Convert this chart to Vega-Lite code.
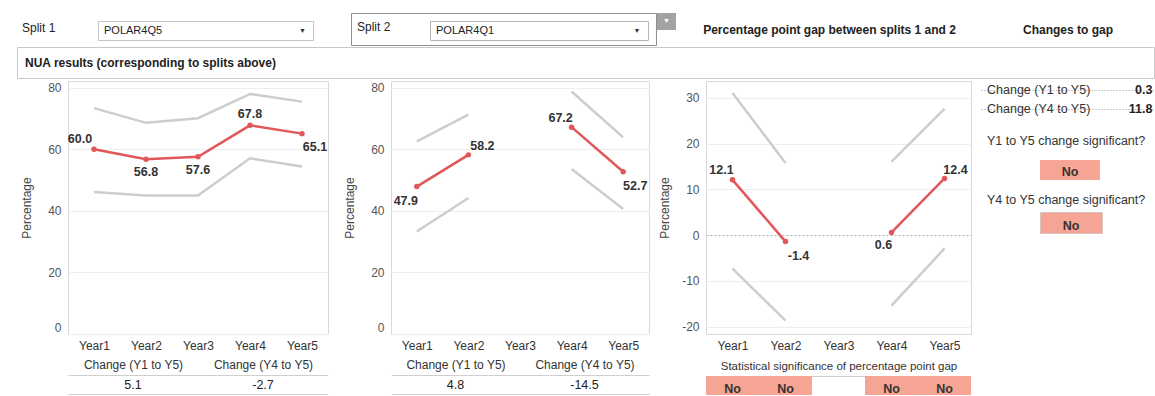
{
  "$schema": "https://vega.github.io/schema/vega-lite/v6.json",
  "padding": 0,
  "background": "white",
  "spacing": 0,
  "datasets": {
    "split1": [
      {"year": "Year1", "segment": "Y1-Y5", "estimate": 60.0, "lower": 46.1, "upper": 73.4},
      {"year": "Year2", "segment": "Y1-Y5", "estimate": 56.8, "lower": 45.0, "upper": 68.6},
      {"year": "Year3", "segment": "Y1-Y5", "estimate": 57.6, "lower": 45.0, "upper": 70.1},
      {"year": "Year4", "segment": "Y1-Y5", "estimate": 67.8, "lower": 57.1, "upper": 78.0},
      {"year": "Year5", "segment": "Y1-Y5", "estimate": 65.1, "lower": 54.4, "upper": 75.5}
    ],
    "split2": [
      {"year": "Year1", "segment": "Y1-Y2", "estimate": 47.9, "lower": 33.3, "upper": 62.6},
      {"year": "Year2", "segment": "Y1-Y2", "estimate": 58.2, "lower": 44.2, "upper": 71.3},
      {"year": "Year4", "segment": "Y4-Y5", "estimate": 67.2, "lower": 53.6, "upper": 78.8},
      {"year": "Year5", "segment": "Y4-Y5", "estimate": 52.7, "lower": 40.6, "upper": 63.9}
    ],
    "gap": [
      {"year": "Year1", "segment": "Y1-Y2", "estimate": 12.1, "lower": -7.3, "upper": 31.1},
      {"year": "Year2", "segment": "Y1-Y2", "estimate": -1.4, "lower": -18.7, "upper": 15.8},
      {"year": "Year4", "segment": "Y4-Y5", "estimate": 0.6, "lower": -15.4, "upper": 16.1},
      {"year": "Year5", "segment": "Y4-Y5", "estimate": 12.4, "lower": -2.9, "upper": 27.6}
    ],
    "split1Change": [
      {"change": "Change (Y1 to Y5)", "value": 5.1},
      {"change": "Change (Y4 to Y5)", "value": -2.7}
    ],
    "split2Change": [
      {"change": "Change (Y1 to Y5)", "value": 4.8},
      {"change": "Change (Y4 to Y5)", "value": -14.5}
    ],
    "gapSignificance": [
      {"year": "Year1", "significant": "No"},
      {"year": "Year2", "significant": "No"},
      {"year": "Year4", "significant": "No"},
      {"year": "Year5", "significant": "No"}
    ],
    "gapChange": [
      {"change": "Change (Y1 to Y5)", "question": "Y1 to Y5 change significant?", "gap": 0.3, "significant": "No"},
      {"change": "Change (Y4 to Y5)", "question": "Y4 to Y5 change significant?", "gap": 11.8, "significant": "No"}
    ]
  },
  "vconcat": [
    {
      "hconcat": [
        {"width": 97, "height": 44, "data": {"values": [{"label": "Split 1"}]},
         "mark": {"type": "text", "align": "left", "dx": -26.5, "dy": 6, "fontSize": 12, "color": "#222"},
         "encoding": {"text": {"field": "label"}}},
        {"vconcat": [
          {"width": 215, "height": 21, "data": {"values": []}, "mark": "text"},
          {"width": 215, "height": 19, "view": {"fill": "white", "stroke": "#c4c4c4"},
           "data": {"values": [{"label": "POLAR4Q5"}]},
           "layer": [
             {"mark": {"type": "text", "align": "left", "dx": -101.5, "fontSize": 11, "color": "#222"}, "encoding": {"text": {"field": "label"}}},
             {"mark": {"type": "text", "text": "▼", "dx": 97, "fontSize": 7, "color": "#333"}}
           ]}
        ], "spacing": 0, "bounds": "flush"},
        {"width": 36, "height": 44, "data": {"values": []}, "mark": "text"},
        {"hconcat": [
          {"vconcat": [
            {"width": 305, "height": 13, "data": {"values": []}, "mark": "text"},
            {"width": 305, "height": 32, "view": {"stroke": "#8f8f8f"},
             "data": {"values": [{"label": "Split 2"}]},
             "mark": {"type": "text", "align": "left", "dx": -146.5, "dy": -2, "fontSize": 12, "color": "#222"},
             "encoding": {"text": {"field": "label"}}}
          ], "spacing": 0, "bounds": "flush"},
          {"vconcat": [
            {"width": 298, "height": 20, "data": {"values": []}, "mark": "text"},
            {"hconcat": [
              {"width": 79, "height": 19, "data": {"values": []}, "mark": "text"},
              {"width": 218, "height": 19, "view": {"fill": "white", "stroke": "#b5b5b5"},
               "data": {"values": [{"label": "POLAR4Q1"}]},
               "layer": [
                 {"mark": {"type": "text", "align": "left", "dx": -103, "fontSize": 11, "color": "#222"}, "encoding": {"text": {"field": "label"}}},
                 {"mark": {"type": "text", "text": "▼", "dx": 98, "fontSize": 7, "color": "#333"}}
               ]}
            ], "spacing": 0, "bounds": "flush"}
          ], "spacing": 0}
        ], "spacing": 0, "bounds": "flush"},
        {"vconcat": [
          {"width": 19, "height": 13, "data": {"values": []}, "mark": "text"},
          {"width": 19, "height": 17, "view": {"fill": "#a3a3a3", "stroke": null},
           "data": {"values": [{}]},
           "mark": {"type": "text", "text": "▼", "dy": -1, "fontSize": 7, "color": "white"}}
        ], "spacing": 0, "bounds": "flush"},
        {"width": 307, "height": 44, "data": {"values": [{"label": "Percentage point gap between splits 1 and 2"}]},
         "mark": {"type": "text", "dy": 8, "fontSize": 12, "fontWeight": "bold", "color": "#222"},
         "encoding": {"text": {"field": "label"}}},
        {"width": 172, "height": 44, "data": {"values": [{"label": "Changes to gap"}]},
         "mark": {"type": "text", "dx": -1, "dy": 8, "fontSize": 12, "fontWeight": "bold", "color": "#222"},
         "encoding": {"text": {"field": "label"}}}
      ],
      "spacing": 0
    },
    {
      "hconcat": [
        {"width": 17, "height": 31, "data": {"values": []}, "mark": "text"},
        {"width": 1137, "height": 31, "view": {"fill": "white", "stroke": "#c8c8c8"},
         "data": {"values": [{"label": "NUA results (corresponding to splits above)"}]},
         "mark": {"type": "text", "align": "left", "dx": -560.5, "fontSize": 12, "fontWeight": "bold", "color": "#222"},
         "encoding": {"text": {"field": "label"}}}
      ],
      "spacing": 0, "bounds": "flush"
    },
    {
      "hconcat": [
        {"width": 19, "height": 316, "data": {"values": []}, "mark": "text"},
        {"vconcat": [
          {"width": 260, "height": 2, "data": {"values": []}, "mark": "text"},
          {"width": 260, "height": 253, "view": {"stroke": "#d9d9d9"},
           "data": {"name": "split1"},
           "encoding": {"x": {"field": "year", "type": "ordinal",
             "scale": {"type": "point", "padding": 0.5, "domain": ["Year1", "Year2", "Year3", "Year4", "Year5"]},
             "axis": {"title": null, "labelAngle": 0, "ticks": false, "domain": false, "grid": false, "labelPadding": 6, "labelFontSize": 12, "labelColor": "#333"}}},
           "layer": [
             {"mark": {"type": "line", "color": "#cdcdcd", "strokeWidth": 2.5},
              "encoding": {"y": {"field": "upper", "type": "quantitative", "title": "Percentage",
                "scale": {"domain": [0, 82.2], "nice": false, "zero": false},
                "axis": {"title": "Percentage", "values": [0, 20, 40, 60, 80], "grid": true, "gridColor": "#eeeeee", "domain": false, "ticks": false, "labelPadding": 7, "labelFontSize": 12, "labelColor": "#555", "labelFlush": true, "titleFontSize": 12, "titleFontWeight": "normal", "titleColor": "#444", "minExtent": 29, "maxExtent": 29, "titlePadding": 6}},
                "detail": {"field": "segment"}}},
             {"mark": {"type": "line", "color": "#cdcdcd", "strokeWidth": 2.5},
              "encoding": {"y": {"field": "lower", "type": "quantitative", "title": "Percentage"}, "detail": {"field": "segment"}}},
             {"mark": {"type": "line", "color": "#e15759", "strokeWidth": 2.5},
              "encoding": {"y": {"field": "estimate", "type": "quantitative", "title": "Percentage"}, "detail": {"field": "segment"}}},
             {"mark": {"type": "circle", "color": "#e15759", "size": 30, "opacity": 1},
              "encoding": {"y": {"field": "estimate", "type": "quantitative", "title": "Percentage"}}},
             {"transform": [{"filter": {"field": "year", "oneOf": ["Year1"]}}],
              "mark": {"type": "text", "dx": -14, "dy": -10, "fontSize": 12.5, "fontWeight": "bold", "color": "#333"},
              "encoding": {"y": {"field": "estimate", "type": "quantitative", "title": "Percentage"}, "text": {"field": "estimate", "type": "quantitative", "format": ".1f"}}},
             {"transform": [{"filter": {"field": "year", "oneOf": ["Year4"]}}],
              "mark": {"type": "text", "dy": -11, "fontSize": 12.5, "fontWeight": "bold", "color": "#333"},
              "encoding": {"y": {"field": "estimate", "type": "quantitative", "title": "Percentage"}, "text": {"field": "estimate", "type": "quantitative", "format": ".1f"}}},
             {"transform": [{"filter": {"field": "year", "oneOf": ["Year2", "Year3"]}}],
              "mark": {"type": "text", "dy": 13, "fontSize": 12.5, "fontWeight": "bold", "color": "#333"},
              "encoding": {"y": {"field": "estimate", "type": "quantitative", "title": "Percentage"}, "text": {"field": "estimate", "type": "quantitative", "format": ".1f"}}},
             {"transform": [{"filter": {"field": "year", "oneOf": ["Year5"]}}],
              "mark": {"type": "text", "dx": 13, "dy": 13, "fontSize": 12.5, "fontWeight": "bold", "color": "#333"},
              "encoding": {"y": {"field": "estimate", "type": "quantitative", "title": "Percentage"}, "text": {"field": "estimate", "type": "quantitative", "format": ".1f"}}}
           ]},
          {"width": 260, "height": 41, "data": {"values": []}, "mark": "text"},
          {"width": 260, "height": 19, "data": {"name": "split1Change"},
           "encoding": {"y": {"datum": "value", "type": "nominal", "axis": null}},
           "layer": [
             {"mark": {"type": "text", "fontSize": 12.5, "color": "#222"},
              "encoding": {"x": {"field": "change", "type": "nominal", "scale": {"paddingInner": 0, "paddingOuter": 0},
                "axis": {"orient": "top", "title": null, "ticks": false, "domain": true, "domainColor": "#cfcfcf", "labelPadding": 4, "labelFontSize": 12, "labelColor": "#333", "labelAngle": 0, "grid": false}},
                "text": {"field": "value", "type": "quantitative", "format": ".1f"}}},
             {"mark": {"type": "text", "opacity": 0},
              "encoding": {"x": {"field": "change", "type": "nominal",
                "axis": {"orient": "bottom", "title": null, "labels": false, "ticks": false, "domain": true, "domainColor": "#cfcfcf", "grid": false}}}}
           ],
           "resolve": {"axis": {"x": "independent"}}}
        ], "spacing": 0, "bounds": "flush"},
        {"width": 13, "height": 316, "data": {"values": []}, "mark": "text"},
        {"vconcat": [
          {"width": 258, "height": 2, "data": {"values": []}, "mark": "text"},
          {"width": 258, "height": 253, "view": {"stroke": "#d9d9d9"},
           "data": {"name": "split2"},
           "encoding": {"x": {"field": "year", "type": "ordinal",
             "scale": {"type": "point", "padding": 0.5, "domain": ["Year1", "Year2", "Year3", "Year4", "Year5"]},
             "axis": {"title": null, "labelAngle": 0, "ticks": false, "domain": false, "grid": false, "labelPadding": 6, "labelFontSize": 12, "labelColor": "#333"}}},
           "layer": [
             {"mark": {"type": "line", "color": "#cdcdcd", "strokeWidth": 2.5},
              "encoding": {"y": {"field": "upper", "type": "quantitative", "title": "Percentage",
                "scale": {"domain": [0, 82.2], "nice": false, "zero": false},
                "axis": {"title": "Percentage", "values": [0, 20, 40, 60, 80], "grid": true, "gridColor": "#eeeeee", "domain": false, "ticks": false, "labelPadding": 7, "labelFontSize": 12, "labelColor": "#555", "labelFlush": true, "titleFontSize": 12, "titleFontWeight": "normal", "titleColor": "#444", "minExtent": 29, "maxExtent": 29, "titlePadding": 6}},
                "detail": {"field": "segment"}}},
             {"mark": {"type": "line", "color": "#cdcdcd", "strokeWidth": 2.5},
              "encoding": {"y": {"field": "lower", "type": "quantitative", "title": "Percentage"}, "detail": {"field": "segment"}}},
             {"mark": {"type": "line", "color": "#e15759", "strokeWidth": 2.5},
              "encoding": {"y": {"field": "estimate", "type": "quantitative", "title": "Percentage"}, "detail": {"field": "segment"}}},
             {"mark": {"type": "circle", "color": "#e15759", "size": 30, "opacity": 1},
              "encoding": {"y": {"field": "estimate", "type": "quantitative", "title": "Percentage"}}},
             {"transform": [{"filter": {"field": "year", "oneOf": ["Year4"]}}],
              "mark": {"type": "text", "dx": -11, "dy": -9, "fontSize": 12.5, "fontWeight": "bold", "color": "#333"},
              "encoding": {"y": {"field": "estimate", "type": "quantitative", "title": "Percentage"}, "text": {"field": "estimate", "type": "quantitative", "format": ".1f"}}},
             {"transform": [{"filter": {"field": "year", "oneOf": ["Year1"]}}],
              "mark": {"type": "text", "dx": -11, "dy": 14, "fontSize": 12.5, "fontWeight": "bold", "color": "#333"},
              "encoding": {"y": {"field": "estimate", "type": "quantitative", "title": "Percentage"}, "text": {"field": "estimate", "type": "quantitative", "format": ".1f"}}},
             {"transform": [{"filter": {"field": "year", "oneOf": ["Year2"]}}],
              "mark": {"type": "text", "dx": 14, "dy": -9, "fontSize": 12.5, "fontWeight": "bold", "color": "#333"},
              "encoding": {"y": {"field": "estimate", "type": "quantitative", "title": "Percentage"}, "text": {"field": "estimate", "type": "quantitative", "format": ".1f"}}},
             {"transform": [{"filter": {"field": "year", "oneOf": ["Year5"]}}],
              "mark": {"type": "text", "dx": 12, "dy": 14, "fontSize": 12.5, "fontWeight": "bold", "color": "#333"},
              "encoding": {"y": {"field": "estimate", "type": "quantitative", "title": "Percentage"}, "text": {"field": "estimate", "type": "quantitative", "format": ".1f"}}}
           ]},
          {"width": 258, "height": 41, "data": {"values": []}, "mark": "text"},
          {"width": 258, "height": 19, "data": {"name": "split2Change"},
           "encoding": {"y": {"datum": "value", "type": "nominal", "axis": null}},
           "layer": [
             {"mark": {"type": "text", "fontSize": 12.5, "color": "#222"},
              "encoding": {"x": {"field": "change", "type": "nominal", "scale": {"paddingInner": 0, "paddingOuter": 0},
                "axis": {"orient": "top", "title": null, "ticks": false, "domain": true, "domainColor": "#cfcfcf", "labelPadding": 4, "labelFontSize": 12, "labelColor": "#333", "labelAngle": 0, "grid": false}},
                "text": {"field": "value", "type": "quantitative", "format": ".1f"}}},
             {"mark": {"type": "text", "opacity": 0},
              "encoding": {"x": {"field": "change", "type": "nominal",
                "axis": {"orient": "bottom", "title": null, "labels": false, "ticks": false, "domain": true, "domainColor": "#cfcfcf", "grid": false}}}}
           ],
           "resolve": {"axis": {"x": "independent"}}}
        ], "spacing": 0, "bounds": "flush"},
        {"width": 7, "height": 316, "data": {"values": []}, "mark": "text"},
        {"vconcat": [
          {"width": 265, "height": 2, "data": {"values": []}, "mark": "text"},
          {"width": 265, "height": 253, "view": {"stroke": "#d9d9d9"},
           "data": {"name": "gap"},
           "encoding": {"x": {"field": "year", "type": "ordinal",
             "scale": {"type": "point", "padding": 0.5, "domain": ["Year1", "Year2", "Year3", "Year4", "Year5"]},
             "axis": {"title": null, "labelAngle": 0, "ticks": false, "domain": false, "grid": false, "labelPadding": 6, "labelFontSize": 12, "labelColor": "#333"}}},
           "layer": [
             {"mark": {"type": "line", "color": "#cdcdcd", "strokeWidth": 2.5},
              "encoding": {"y": {"field": "upper", "type": "quantitative", "title": "Percentage",
                "scale": {"domain": [-21.6, 33.7], "nice": false, "zero": false},
                "axis": {"title": "Percentage", "values": [-20, -10, 0, 10, 20, 30], "grid": true,
                  "gridColor": {"condition": {"test": "datum.value === 0", "value": "#b0b0b0"}, "value": "#eeeeee"},
                  "gridDash": {"condition": {"test": "datum.value === 0", "value": [2, 2]}, "value": []},
                  "domain": false, "ticks": false, "labelPadding": 7, "labelFontSize": 12, "labelColor": "#555", "titleFontSize": 12, "titleFontWeight": "normal", "titleColor": "#444", "minExtent": 29, "maxExtent": 29, "titlePadding": 6}},
                "detail": {"field": "segment"}}},
             {"mark": {"type": "line", "color": "#cdcdcd", "strokeWidth": 2.5},
              "encoding": {"y": {"field": "lower", "type": "quantitative", "title": "Percentage"}, "detail": {"field": "segment"}}},
             {"mark": {"type": "line", "color": "#e15759", "strokeWidth": 2.5},
              "encoding": {"y": {"field": "estimate", "type": "quantitative", "title": "Percentage"}, "detail": {"field": "segment"}}},
             {"mark": {"type": "circle", "color": "#e15759", "size": 30, "opacity": 1},
              "encoding": {"y": {"field": "estimate", "type": "quantitative", "title": "Percentage"}}},
             {"transform": [{"filter": {"field": "year", "oneOf": ["Year1"]}}],
              "mark": {"type": "text", "dx": -11, "dy": -10, "fontSize": 12.5, "fontWeight": "bold", "color": "#333"},
              "encoding": {"y": {"field": "estimate", "type": "quantitative", "title": "Percentage"}, "text": {"field": "estimate", "type": "quantitative", "format": ".1f"}}},
             {"transform": [{"filter": {"field": "year", "oneOf": ["Year2"]}}],
              "mark": {"type": "text", "dx": 13, "dy": 14, "fontSize": 12.5, "fontWeight": "bold", "color": "#333"},
              "encoding": {"y": {"field": "estimate", "type": "quantitative", "title": "Percentage"}, "text": {"field": "estimate", "type": "quantitative", "format": ".1f"}}},
             {"transform": [{"filter": {"field": "year", "oneOf": ["Year4"]}}],
              "mark": {"type": "text", "dx": -8, "dy": 13, "fontSize": 12.5, "fontWeight": "bold", "color": "#333"},
              "encoding": {"y": {"field": "estimate", "type": "quantitative", "title": "Percentage"}, "text": {"field": "estimate", "type": "quantitative", "format": ".1f"}}},
             {"transform": [{"filter": {"field": "year", "oneOf": ["Year5"]}}],
              "mark": {"type": "text", "dx": 11, "dy": -8, "fontSize": 12.5, "fontWeight": "bold", "color": "#333"},
              "encoding": {"y": {"field": "estimate", "type": "quantitative", "title": "Percentage"}, "text": {"field": "estimate", "type": "quantitative", "format": ".1f"}}}
           ]},
          {"width": 265, "height": 42, "data": {"values": []}, "mark": "text"},
          {"width": 265, "height": 19, "data": {"name": "gapSignificance"},
           "encoding": {"x": {"field": "year", "type": "ordinal",
             "scale": {"domain": ["Year1", "Year2", "Year3", "Year4", "Year5"], "paddingInner": 0, "paddingOuter": 0},
             "axis": {"orient": "top", "title": "Statistical significance of percentage point gap", "labels": false, "ticks": false, "domain": true, "domainColor": "#cfcfcf", "grid": false, "titleFontSize": 11.5, "titleFontWeight": "normal", "titleColor": "#333", "titlePadding": 5, "minExtent": 0, "maxExtent": 0}}},
           "layer": [
             {"mark": {"type": "bar", "color": "#f6a594"}},
             {"mark": {"type": "text", "fontSize": 12.5, "fontWeight": "bold", "color": "#333", "dy": 3},
              "encoding": {"text": {"field": "significant"}}}
           ]}
        ], "spacing": 0, "bounds": "flush"},
        {"width": 9, "height": 316, "data": {"values": []}, "mark": "text"},
        {"vconcat": [
          {"width": 173, "height": 1, "data": {"values": []}, "mark": "text"},
          {"width": 173, "height": 39, "data": {"name": "gapChange"},
           "encoding": {"y": {"field": "change", "type": "nominal", "scale": {"paddingInner": 0, "paddingOuter": 0},
             "axis": {"title": null, "labels": false, "ticks": false, "domain": false, "grid": true, "gridDash": [1, 2], "gridColor": "#9a9a9a", "bandPosition": 1}}},
           "layer": [
             {"mark": {"type": "text", "align": "left", "dx": -80.5, "fontSize": 12.5, "color": "#333"},
              "encoding": {"text": {"field": "change"}}},
             {"mark": {"type": "text", "align": "right", "dx": 85, "fontSize": 12.5, "fontWeight": "bold", "color": "#222", "clip": true},
              "encoding": {"text": {"field": "gap", "type": "quantitative", "format": ".1f"}}}
           ]},
          {"width": 173, "height": 41, "data": {"name": "gapChange"},
           "transform": [{"filter": "datum.change === 'Change (Y1 to Y5)'"}],
           "mark": {"type": "text", "align": "left", "dx": -80.5, "dy": 1.5, "fontSize": 12.5, "color": "#333"},
           "encoding": {"text": {"field": "question"}}},
          {"hconcat": [
            {"width": 59, "height": 20, "data": {"values": []}, "mark": "text"},
            {"width": 60, "height": 20, "view": {"fill": "#f6a594", "stroke": null},
             "data": {"name": "gapChange"},
             "transform": [{"filter": "datum.change === 'Change (Y1 to Y5)'"}],
             "mark": {"type": "text", "fontSize": 12.5, "fontWeight": "bold", "color": "#333", "dy": 2},
             "encoding": {"text": {"field": "significant"}}}
          ], "spacing": 0, "bounds": "flush"},
          {"width": 173, "height": 31, "data": {"name": "gapChange"},
           "transform": [{"filter": "datum.change === 'Change (Y4 to Y5)'"}],
           "mark": {"type": "text", "align": "left", "dx": -80.5, "dy": 4, "fontSize": 12.5, "color": "#333"},
           "encoding": {"text": {"field": "question"}}},
          {"hconcat": [
            {"width": 59, "height": 21, "data": {"values": []}, "mark": "text"},
            {"width": 62, "height": 21, "view": {"fill": "#f6a594", "stroke": "#b0b0b0", "strokeDash": [1, 1]},
             "data": {"name": "gapChange"},
             "transform": [{"filter": "datum.change === 'Change (Y4 to Y5)'"}],
             "mark": {"type": "text", "fontSize": 12.5, "fontWeight": "bold", "color": "#333", "dy": 3},
             "encoding": {"text": {"field": "significant"}}}
          ], "spacing": 0, "bounds": "flush"}
        ], "spacing": 0}
      ],
      "spacing": 0
    }
  ],
  "config": {
    "font": "Liberation Sans",
    "view": {"stroke": null},
    "concat": {"spacing": 0},
    "axis": {"labelFont": "Liberation Sans", "titleFont": "Liberation Sans"},
    "text": {"font": "Liberation Sans"},
    "locale": {"number": {"decimal": ".", "thousands": ",", "grouping": [3], "currency": ["$", ""], "minus": "-"}}
  }
}
